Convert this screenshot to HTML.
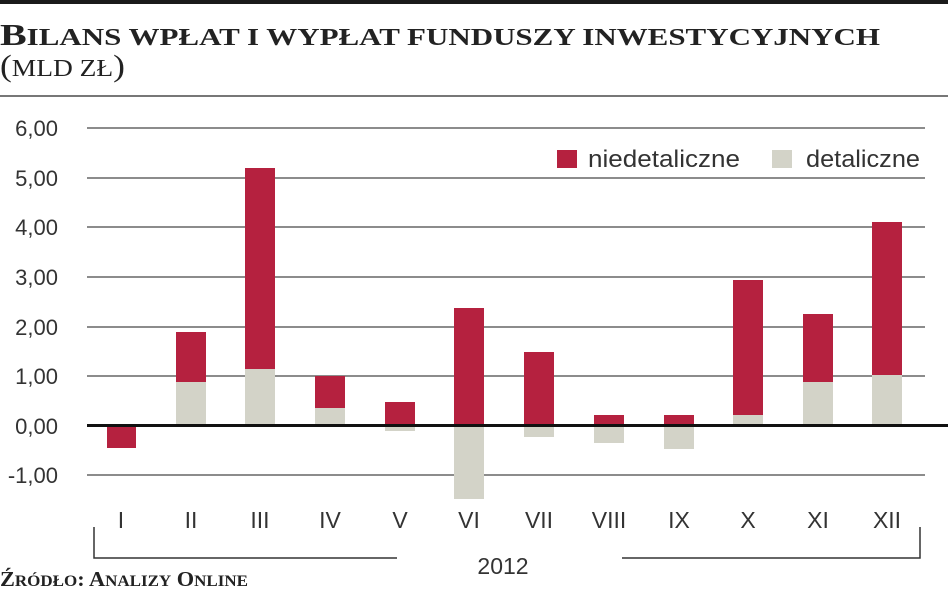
<!DOCTYPE html>
<html><head><meta charset="utf-8"><style>
body{margin:0;background:#fff;}
svg{display:block;}
</style></head><body>
<svg width="948" height="593" xmlns="http://www.w3.org/2000/svg" font-family="Liberation Sans, sans-serif">
<rect x="0" y="0" width="948" height="4" fill="#1a1a1a"/>
<text x="0" y="45" font-family="Liberation Serif, serif" font-weight="bold" font-size="31" fill="#222" textLength="880" lengthAdjust="spacingAndGlyphs">B<tspan font-size="24">ILANS WPŁAT I WYPŁAT FUNDUSZY INWESTYCYJNYCH</tspan></text>
<text x="0" y="76" font-family="Liberation Serif, serif" font-size="31" fill="#222" textLength="125" lengthAdjust="spacingAndGlyphs">(<tspan font-size="24">MLD ZŁ</tspan>)</text>
<rect x="0" y="95" width="948" height="2" fill="#777"/>
<g stroke="#666" stroke-width="1.5">
<line x1="87" y1="128" x2="925" y2="128"/>
<line x1="87" y1="178" x2="925" y2="178"/>
<line x1="87" y1="227" x2="925" y2="227"/>
<line x1="87" y1="277" x2="925" y2="277"/>
<line x1="87" y1="327" x2="925" y2="327"/>
<line x1="87" y1="376" x2="925" y2="376"/>
<line x1="87" y1="475" x2="925" y2="475"/>
</g>
<g font-size="22" fill="#333" text-anchor="end">
<text x="58" y="136">6,00</text>
<text x="58" y="186">5,00</text>
<text x="58" y="235">4,00</text>
<text x="58" y="285">3,00</text>
<text x="58" y="335">2,00</text>
<text x="58" y="384">1,00</text>
<text x="58" y="434">0,00</text>
<text x="58" y="483">-1,00</text>
</g>
<g fill="#d3d3c8">
<rect x="176" y="382" width="30" height="44"/>
<rect x="245" y="369" width="30" height="57"/>
<rect x="315" y="408" width="30" height="18"/>
<rect x="385" y="426" width="30" height="5"/>
<rect x="454" y="426" width="30" height="73"/>
<rect x="524" y="426" width="30" height="11"/>
<rect x="594" y="426" width="30" height="17"/>
<rect x="664" y="426" width="30" height="23"/>
<rect x="733" y="415" width="30" height="11"/>
<rect x="803" y="382" width="30" height="44"/>
<rect x="872" y="375" width="30" height="51"/>
</g>
<g fill="#b5213f">
<rect x="107" y="426" width="29" height="22"/>
<rect x="176" y="332" width="30" height="50"/>
<rect x="245" y="168" width="30" height="201"/>
<rect x="315" y="376" width="30" height="32"/>
<rect x="385" y="402" width="30" height="24"/>
<rect x="454" y="308" width="30" height="118"/>
<rect x="524" y="352" width="30" height="74"/>
<rect x="594" y="415" width="30" height="11"/>
<rect x="664" y="415" width="30" height="11"/>
<rect x="733" y="280" width="30" height="135"/>
<rect x="803" y="314" width="30" height="68"/>
<rect x="872" y="222" width="30" height="153"/>
</g>
<rect x="87" y="424" width="861" height="3" fill="#111"/>
<g font-size="23" fill="#333" text-anchor="middle">
<text x="121" y="528">I</text><text x="191" y="528">II</text><text x="260" y="528">III</text>
<text x="330" y="528">IV</text><text x="400" y="528">V</text><text x="469" y="528">VI</text>
<text x="539" y="528">VII</text><text x="609" y="528">VIII</text><text x="679" y="528">IX</text>
<text x="748" y="528">X</text><text x="818" y="528">XI</text><text x="887" y="528">XII</text>
<text x="503" y="574">2012</text>
</g>
<path d="M94 527 V558 H397 M622 558 H920 V527" stroke="#333" stroke-width="1.5" fill="none"/>
<rect x="557" y="150" width="20" height="18" fill="#b5213f"/>
<text x="588" y="167" font-size="24" fill="#333" textLength="152" lengthAdjust="spacingAndGlyphs">niedetaliczne</text>
<rect x="772" y="150" width="20" height="18" fill="#d3d3c8"/>
<text x="806" y="167" font-size="24" fill="#333" textLength="114" lengthAdjust="spacingAndGlyphs">detaliczne</text>
<text x="0" y="586" font-family="Liberation Serif, serif" font-weight="bold" font-size="21" fill="#222" textLength="248" lengthAdjust="spacingAndGlyphs">Ź<tspan font-size="16">RÓDŁO</tspan>: A<tspan font-size="16">NALIZY</tspan> O<tspan font-size="16">NLINE</tspan></text>
</svg>
</body></html>
